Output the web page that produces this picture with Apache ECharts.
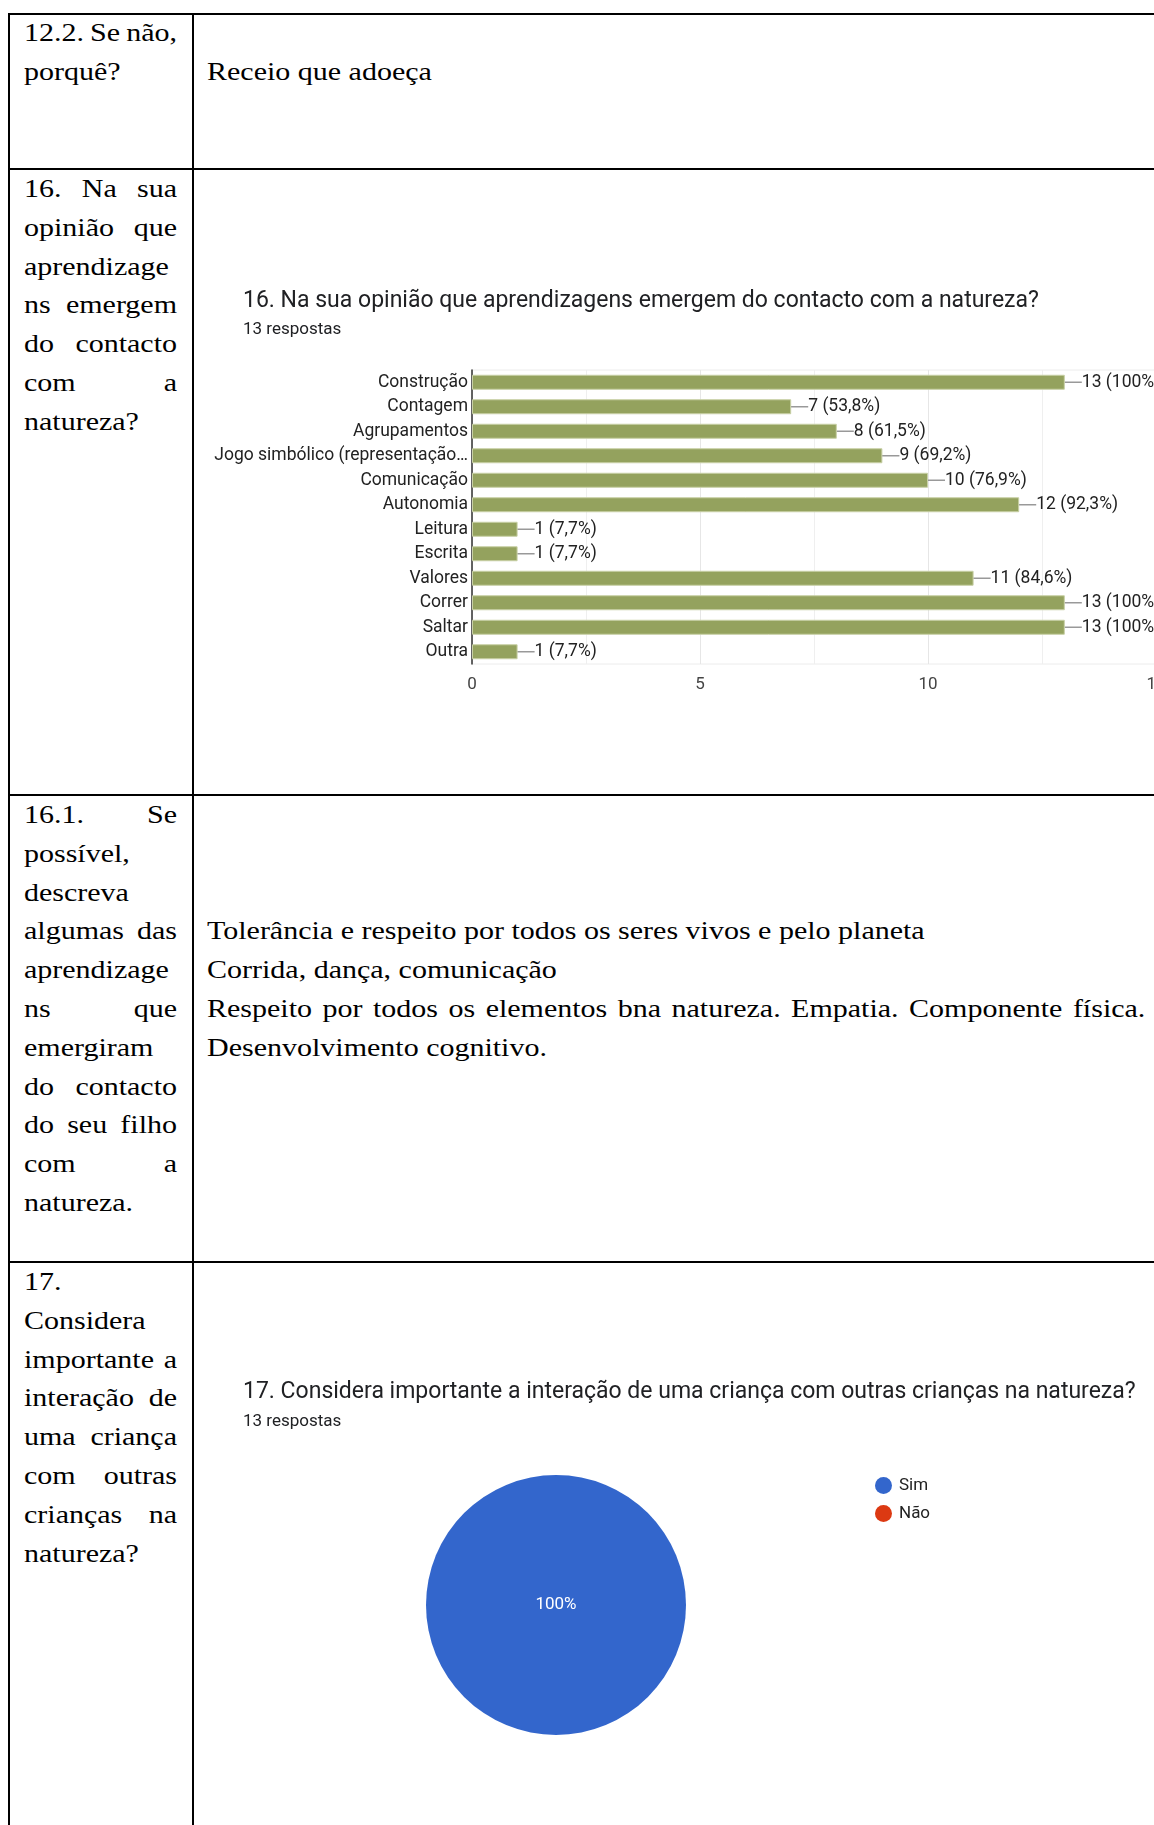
<!DOCTYPE html>
<html><head><meta charset="utf-8">
<script src="https://cdn.jsdelivr.net/npm/echarts@6/dist/echarts.min.js"></script>
<style>
html,body{margin:0;padding:0;width:1154px;height:1825px;overflow:hidden;background:#fff;}
.ln{position:absolute;background:#000;}
.blk{position:absolute;font-family:"Liberation Serif","Times New Roman",serif;font-size:25px;line-height:38.8px;color:#000;transform:scaleX(1.2);transform-origin:0 0;white-space:nowrap;}
.row{display:flex;justify-content:space-between;height:38.8px;}
.chart{position:absolute;}
</style></head><body>
<div id="doc"></div>
<div id="bar" class="chart" style="left:196px;top:172px;width:1250px;height:620px;"></div>
<div id="pie" class="chart" style="left:196px;top:1264px;width:958px;height:561px;"></div>
<script>
// ---------- document text ----------
const row1Left = ["12.2. Se não,", "porquê?"];
const row1Right = ["", "Receio que adoeça"];
const row2Left = ["16. Na sua", "opinião que", "aprendizage", "ns emergem", "do contacto", "com a", "natureza?"];
const row3Left = ["16.1. Se", "possível,", "descreva", "algumas das", "aprendizage", "ns que", "emergiram", "do contacto", "do seu filho", "com a", "natureza."];
const row3Right = ["", "", "", "Tolerância e respeito por todos os seres vivos e pelo planeta", "Corrida, dança, comunicação", "Respeito por todos os elementos bna natureza. Empatia. Componente física.", "Desenvolvimento cognitivo."];
const row3RightJustified = [false, false, false, false, false, true, false];
const row4Left = ["17.", "Considera", "importante a", "interação de", "uma criança", "com outras", "crianças na", "natureza?"];

// ---------- chart 16 data ----------
const barTitle = "16. Na sua opinião que aprendizagens emergem do contacto com a natureza?";
const barSubtitle = "13 respostas";
const totalResponses = 13;
const barCategories = ["Construção", "Contagem", "Agrupamentos", "Jogo simbólico (representação…", "Comunicação", "Autonomia", "Leitura", "Escrita", "Valores", "Correr", "Saltar", "Outra"];
const barValues = [13, 7, 8, 9, 10, 12, 1, 1, 11, 13, 13, 1];
const barTicks = [0, 5, 10, 15];

// ---------- chart 17 data ----------
const pieTitle = "17. Considera importante a interação de uma criança com outras crianças na natureza?";
const pieSubtitle = "13 respostas";
const pieCategories = ["Sim", "Não"];
const pieValues = [13, 0];

// ---------- build document ----------
const doc = document.getElementById('doc');
function line(x, y, w, h) {
  const d = document.createElement('div');
  d.className = 'ln';
  d.style.cssText = `left:${x}px;top:${y}px;width:${w}px;height:${h}px;`;
  doc.appendChild(d);
}
line(8, 13, 1146, 2);
line(8, 13, 2, 1812);
line(192, 13, 2, 1812);
line(8, 168, 1146, 2);
line(8, 794, 1146, 2);
line(8, 1261, 1146, 2);

function justifiedRow(t, width) {
  const r = document.createElement('div');
  r.className = 'row';
  if (width) r.style.width = width + 'px';
  t.split(' ').forEach(w => {
    const s = document.createElement('span');
    s.textContent = w;
    r.appendChild(s);
  });
  return r;
}
function leftBlock(lines, top) {
  const b = document.createElement('div');
  b.className = 'blk';
  b.style.left = '24px';
  b.style.top = top + 'px';
  b.style.width = '127.5px';
  lines.forEach(t => b.appendChild(justifiedRow(t)));
  doc.appendChild(b);
}
function rightBlock(lines, top, just) {
  const b = document.createElement('div');
  b.className = 'blk';
  b.style.left = '207px';
  b.style.top = top + 'px';
  lines.forEach((t, i) => {
    let r;
    if (just && just[i]) {
      r = justifiedRow(t, 782);
    } else {
      r = document.createElement('div');
      r.style.height = '38.8px';
      r.textContent = t;
    }
    b.appendChild(r);
  });
  doc.appendChild(b);
}
leftBlock(row1Left, 14);
rightBlock(row1Right, 14);
leftBlock(row2Left, 170);
leftBlock(row3Left, 796);
rightBlock(row3Right, 796, row3RightJustified);
leftBlock(row4Left, 1263);

// ---------- bar chart ----------
function pctText(v) {
  const p = Math.round(v / totalResponses * 1000) / 10;
  const s = Number.isInteger(p) ? String(p) : p.toFixed(1).replace('.', ',');
  return v + ' (' + s + '%)';
}
const font = 'Roboto, Arial, sans-serif';
const bar = echarts.init(document.getElementById('bar'), null, {renderer: 'canvas'});
bar.setOption({
  animation: false,
  title: [
    {text: barTitle, left: 42, top: 112.5, textStyle: {fontFamily: font, fontSize: 23, fontWeight: 'normal', color: '#202124'}},
    {text: barSubtitle, left: 42, top: 144, textStyle: {fontFamily: font, fontSize: 17, fontWeight: 'normal', color: '#202124'}}
  ],
  grid: {left: 276, top: 198, width: 684, height: 294, show: true, borderColor: '#ececec', borderWidth: 1},
  xAxis: {
    type: 'value', min: barTicks[0], max: barTicks[barTicks.length - 1], interval: 5,
    axisLine: {show: false}, axisTick: {show: false},
    axisLabel: {fontFamily: font, fontSize: 17, color: '#444', margin: 12},
    splitLine: {lineStyle: {color: '#e6e6e6'}},
    minorTick: {show: false, splitNumber: 2},
    minorSplitLine: {show: true, lineStyle: {color: '#efefef'}}
  },
  yAxis: {
    type: 'category', data: barCategories, inverse: true,
    axisLine: {show: true, lineStyle: {color: '#333', width: 1.5}},
    axisTick: {show: false},
    axisLabel: {fontFamily: font, fontSize: 17.5, color: '#222', margin: 4}
  },
  series: [{
    type: 'bar', data: barValues, barWidth: 15,
    itemStyle: {color: '#94a25e', borderColor: '#c8d0a6', borderWidth: 1},
    label: {show: true, position: 'right', distance: 0, fontFamily: font, fontSize: 17.5, color: '#222',
      formatter: p => pctText(p.value)},
    labelLayout: {dx: 17},
    labelLine: {show: true, lineStyle: {color: '#999', width: 1.5}}
  }]
});

// ---------- pie chart ----------
const pie = echarts.init(document.getElementById('pie'), null, {renderer: 'canvas'});
pie.setOption({
  animation: false,
  color: ['#3366cc', '#dc3912'],
  title: [
    {text: pieTitle, left: 42, top: 111.5, textStyle: {fontFamily: font, fontSize: 23, fontWeight: 'normal', color: '#202124'}},
    {text: pieSubtitle, left: 42, top: 144, textStyle: {fontFamily: font, fontSize: 17, fontWeight: 'normal', color: '#202124'}}
  ],
  legend: {
    orient: 'vertical', left: 674, top: 208, icon: 'circle', itemWidth: 17, itemHeight: 17, itemGap: 11,
    data: pieCategories,
    textStyle: {fontFamily: font, fontSize: 17, color: '#222', padding: [0, 0, 0, 2]}
  },
  series: [{
    type: 'pie', center: [360, 341], radius: 130, startAngle: 90,
    label: {show: true, position: 'center', formatter: '{d}%', color: '#fff', fontFamily: font, fontSize: 17},
    labelLine: {show: false},
    itemStyle: {borderColor: '#fff', borderWidth: 0},
    emphasis: {disabled: true},
    data: pieCategories.map((n, i) => ({name: n, value: pieValues[i], label: {show: pieValues[i] > 0}}))
  }]
});
</script>
</body></html>
